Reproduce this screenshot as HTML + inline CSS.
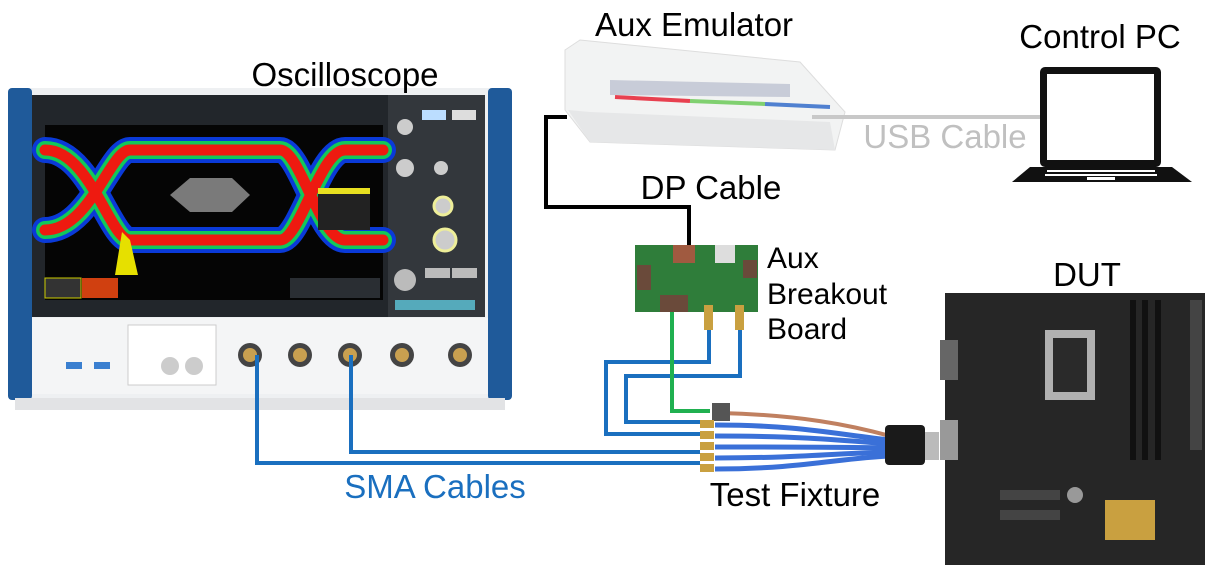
<!DOCTYPE html>
<html><head><meta charset="utf-8"><style>
body{margin:0;background:#fff;width:1212px;height:575px;overflow:hidden}
svg{display:block}
text{font-family:"Liberation Sans",sans-serif}
</style></head><body>
<svg width="1212" height="575" viewBox="0 0 1212 575">
<!-- Oscilloscope -->
<rect x="8" y="88" width="504" height="312" rx="6" fill="#eef0f2"/>
<rect x="8" y="88" width="24" height="312" rx="4" fill="#1f5a9a"/>
<rect x="488" y="88" width="24" height="312" rx="4" fill="#1f5a9a"/>
<rect x="32" y="95" width="356" height="222" fill="#22262b"/>
<rect x="45" y="125" width="338" height="175" fill="#050505"/>
<rect x="388" y="95" width="97" height="222" fill="#33373c"/>
<g fill="none" stroke-linecap="round">
<path d="M45 150 C90 150 110 240 130 240 M45 230 C90 230 110 150 130 150 C200 150 240 150 280 150 C300 150 320 240 345 240 M130 240 L280 240 C300 240 320 150 345 150 C360 150 375 150 383 150 M345 240 L383 240" stroke="#0a3ad8" stroke-width="26"/>
<path d="M45 150 C90 150 110 240 130 240 M45 230 C90 230 110 150 130 150 C200 150 240 150 280 150 C300 150 320 240 345 240 M130 240 L280 240 C300 240 320 150 345 150 C360 150 375 150 383 150 M345 240 L383 240" stroke="#12c85a" stroke-width="18"/>
<path d="M45 150 C90 150 110 240 130 240 M45 230 C90 230 110 150 130 150 C200 150 240 150 280 150 C300 150 320 240 345 240 M130 240 L280 240 C300 240 320 150 345 150 C360 150 375 150 383 150 M345 240 L383 240" stroke="#ee1a10" stroke-width="11"/>
</g>
<polygon points="170,195 190,178 232,178 250,195 232,212 190,212" fill="#7a7a7a"/>
<polygon points="115,275 122,232 130,240 138,275" fill="#e6e000"/>
<rect x="318" y="188" width="52" height="42" fill="#222"/>
<rect x="318" y="188" width="52" height="6" fill="#e8e020"/>
<rect x="45" y="278" width="36" height="20" fill="#333" stroke="#cc0" stroke-width="1"/>
<rect x="82" y="278" width="36" height="20" fill="#d04010"/>
<rect x="290" y="278" width="90" height="20" fill="#2a2e33"/>
<circle cx="405" cy="127" r="8" fill="#ccc"/><circle cx="405" cy="168" r="9" fill="#ccc"/><circle cx="441" cy="168" r="7" fill="#ccc"/>
<circle cx="443" cy="206" r="9" fill="#ccc" stroke="#ee9" stroke-width="3"/><circle cx="445" cy="240" r="11" fill="#ccc" stroke="#ee9" stroke-width="3"/>
<circle cx="405" cy="280" r="11" fill="#bbb"/>
<rect x="422" y="110" width="24" height="10" fill="#bdf"/><rect x="452" y="110" width="24" height="10" fill="#ddd"/>
<rect x="425" y="268" width="25" height="10" fill="#bbb"/><rect x="452" y="268" width="25" height="10" fill="#bbb"/>
<rect x="395" y="300" width="80" height="10" fill="#5ab"/>
<rect x="32" y="318" width="456" height="76" fill="#f4f5f6"/>
<rect x="128" y="325" width="88" height="60" fill="#fff" stroke="#ccc"/>
<g fill="#444"><circle cx="250" cy="355" r="12"/><circle cx="300" cy="355" r="12"/><circle cx="350" cy="355" r="12"/><circle cx="402" cy="355" r="12"/><circle cx="460" cy="355" r="12"/></g>
<g fill="#c9a050"><circle cx="250" cy="355" r="7"/><circle cx="300" cy="355" r="7"/><circle cx="350" cy="355" r="7"/><circle cx="402" cy="355" r="7"/><circle cx="460" cy="355" r="7"/></g>
<rect x="66" y="362" width="16" height="7" fill="#3a7fd0"/><rect x="94" y="362" width="16" height="7" fill="#3a7fd0"/>
<circle cx="170" cy="366" r="9" fill="#ccc"/><circle cx="194" cy="366" r="9" fill="#ccc"/>
<rect x="15" y="398" width="490" height="12" fill="#e2e3e5"/>
<text x="345" y="86" font-size="33" text-anchor="middle">Oscilloscope</text>

<!-- Aux emulator -->
<polygon points="565,50 580,40 800,62 845,112 835,150 590,142 565,110" fill="#f2f3f3" stroke="#ddd"/>
<polygon points="568,110 590,142 835,150 830,122 590,112" fill="#e6e7e8"/>
<line x1="615" y1="97" x2="690" y2="101" stroke="#e84050" stroke-width="4"/>
<line x1="690" y1="101" x2="765" y2="104" stroke="#80d070" stroke-width="4"/>
<line x1="765" y1="104" x2="830" y2="107" stroke="#5080d0" stroke-width="4"/>
<polygon points="610,80 790,84 790,97 610,95" fill="#c8ccd8"/>
<text x="694" y="36" font-size="33" text-anchor="middle">Aux Emulator</text>

<line x1="812" y1="117" x2="1040" y2="117" stroke="#c8c8c8" stroke-width="4"/>
<text x="945" y="148" font-size="33" fill="#c0c0c0" text-anchor="middle">USB Cable</text>
<rect x="1040" y="67" width="121" height="100" rx="5" fill="#111"/>
<rect x="1047" y="74" width="107" height="86" fill="#fff"/>
<polygon points="1030,167 1172,167 1192,182 1012,182" fill="#111"/>
<g fill="#fff"><rect x="1047" y="170" width="108" height="2"/><rect x="1045" y="174" width="112" height="2"/><rect x="1087" y="177" width="28" height="3"/></g>
<text x="1100" y="48" font-size="33" text-anchor="middle">Control PC</text>

<polyline points="567,117 546,117 546,207 689,207 689,245" fill="none" stroke="#000" stroke-width="4"/>
<text x="711" y="199" font-size="33" text-anchor="middle">DP Cable</text>

<rect x="635" y="245" width="123" height="67" fill="#2f7d3a"/>
<rect x="673" y="245" width="22" height="18" fill="#a05a40"/>
<rect x="715" y="245" width="20" height="18" fill="#ddd"/>
<rect x="637" y="265" width="14" height="25" fill="#6a4a3a"/>
<rect x="660" y="295" width="28" height="17" fill="#6a4a3a"/>
<rect x="743" y="260" width="14" height="18" fill="#6a4a3a"/>
<rect x="704" y="305" width="9" height="25" fill="#c9a040"/>
<rect x="735" y="305" width="9" height="25" fill="#c9a040"/>
<text x="767" y="268" font-size="30">Aux</text>
<text x="767" y="304" font-size="30">Breakout</text>
<text x="767" y="339" font-size="30">Board</text>

<g fill="none" stroke="#1a6fbf" stroke-width="4">
<polyline points="709,330 709,362 606,362 606,434 700,434"/>
<polyline points="740,330 740,376 626,376 626,422 700,422"/>
<polyline points="257,355 257,463 700,463"/>
<polyline points="351,355 351,452 700,452"/>
</g>
<polyline points="672,312 672,411 710,411" fill="none" stroke="#20b050" stroke-width="4"/>
<text x="435" y="498" font-size="33" fill="#1a6fbf" text-anchor="middle">SMA Cables</text>

<g stroke="#3a70d8" stroke-width="5" fill="none">
<path d="M715 425 C800 425 840 435 890 440"/>
<path d="M715 436 C800 436 840 440 890 444"/>
<path d="M715 447 C800 447 840 447 890 448"/>
<path d="M715 458 C800 458 840 453 890 452"/>
<path d="M715 469 C800 469 840 458 890 456"/>
</g>
<path d="M720 413 C800 415 850 425 890 436" stroke="#c08060" stroke-width="4" fill="none"/>
<rect x="712" y="403" width="18" height="18" fill="#555"/>
<g fill="#c9a040"><rect x="700" y="420" width="14" height="8"/><rect x="700" y="431" width="14" height="8"/><rect x="700" y="442" width="14" height="8"/><rect x="700" y="453" width="14" height="8"/><rect x="700" y="464" width="14" height="8"/></g>
<rect x="885" y="425" width="40" height="40" rx="4" fill="#1a1a1a"/>
<rect x="925" y="432" width="14" height="28" fill="#bbb"/>
<text x="795" y="506" font-size="33" text-anchor="middle">Test Fixture</text>

<rect x="945" y="293" width="260" height="272" fill="#262626"/>
<rect x="940" y="340" width="18" height="40" fill="#666"/>
<rect x="940" y="420" width="18" height="40" fill="#999"/>
<rect x="1045" y="330" width="50" height="70" fill="#b0b0b0"/>
<rect x="1053" y="338" width="34" height="54" fill="#2a2a2a"/>
<rect x="1130" y="300" width="6" height="160" fill="#111"/><rect x="1142" y="300" width="6" height="160" fill="#111"/><rect x="1155" y="300" width="6" height="160" fill="#111"/>
<rect x="1000" y="490" width="60" height="10" fill="#444"/><rect x="1000" y="510" width="60" height="10" fill="#444"/>
<rect x="1105" y="500" width="50" height="40" fill="#c9a040"/>
<circle cx="1075" cy="495" r="8" fill="#999"/>
<rect x="1190" y="300" width="12" height="150" fill="#444"/>
<text x="1087" y="286" font-size="33" text-anchor="middle">DUT</text>
</svg>
</body></html>
